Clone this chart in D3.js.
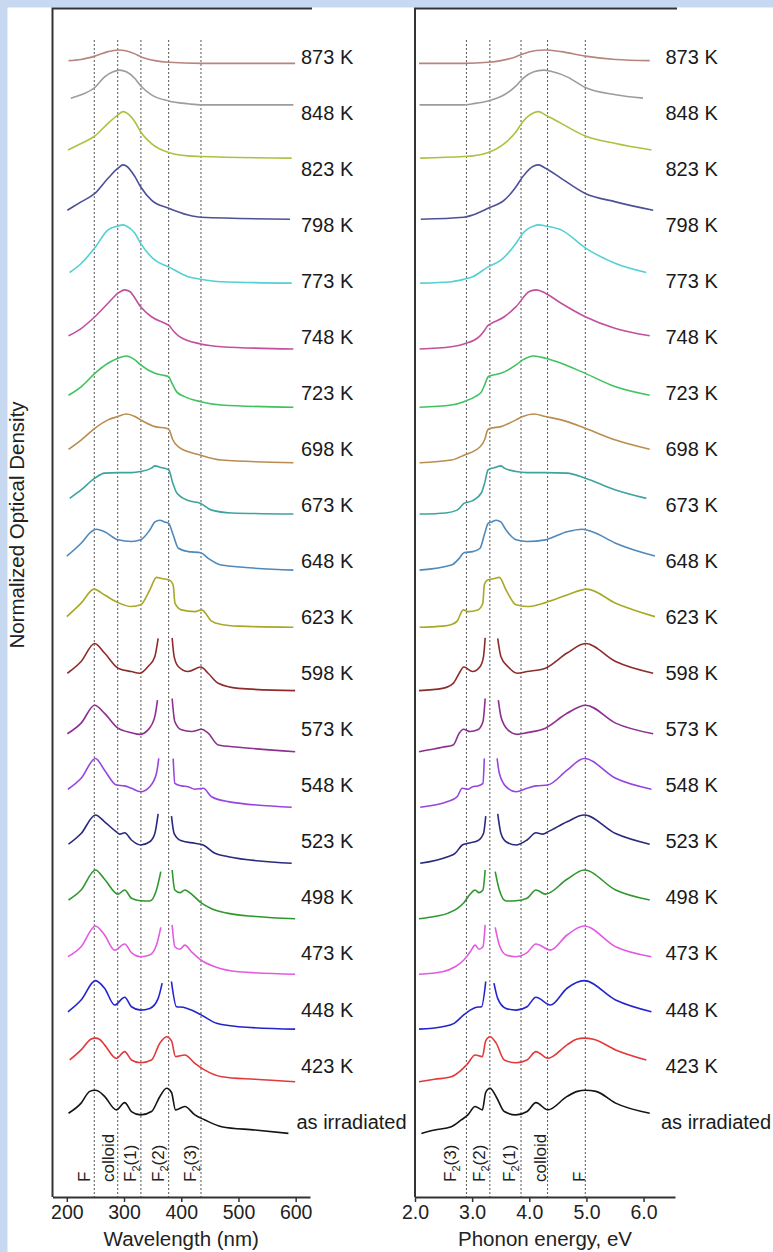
<!DOCTYPE html>
<html>
<head>
<meta charset="utf-8">
<script src="https://cdn.jsdelivr.net/npm/d3@7"></script>
<style>
  html, body { margin: 0; padding: 0; background: #c6d9f1; }
  svg { display: block; font-family: "Liberation Sans", Arial, Helvetica, sans-serif; }
</style>
</head>
<body>
<svg id="chart" width="773" height="1252"></svg>
<script>
// ---- axes ----
const wavelengthDomain = [175, 625];
const energyDomain = [2.0, 6.55];
const wavelengthTicks = [200, 300, 400, 500, 600];
const energyTicks = [2, 3, 4, 5, 6];
const HC = 1239.84; // eV·nm

// ---- absorption bands (dotted guides) ----
const bandNames = ["F", "colloid", "F2(1)", "F2(2)", "F2(3)"];
const bandWavelengths = [248, 289, 329.5, 378, 434.5];
const bandEnergies = [4.98, 4.32, 3.855, 3.31, 2.90];

// ---- spectra, bottom to top ----
const seriesNames = ["as irradiated", "423 K", "448 K", "473 K", "498 K", "523 K", "548 K", "573 K",
  "598 K", "623 K", "648 K", "673 K", "698 K", "723 K", "748 K", "773 K", "798 K", "823 K", "848 K", "873 K"];
const seriesColors = ["#141414", "#e2393a", "#2424cf", "#e35be0", "#2f972f", "#282a7c", "#9645e0", "#8c2f8e",
  "#8e2c2c", "#a9a827", "#4f88bb", "#3ca39f", "#b98d4f", "#3fc25f", "#c2509e", "#52d0d4", "#4c5097", "#a9c340", "#9c9c9c", "#b8847e"];

// [wavelength nm, normalized OD]; null marks the saturated region
const odIrr = [[203,0.40],[225,0.58],[240,0.79],[249,0.81],[256,0.79],[266,0.70],[286.6,0.46],[301.2,0.59],[312.9,0.43],[329.2,0.37],[348,0.43],[362.5,0.695],[374.3,0.845],[383,0.77],[390,0.46],[406.3,0.52],[423.8,0.37],[441.3,0.28],[470.5,0.16],[528.9,0.10],[587.3,0.04]];
const od423 = [[205,0.35],[225,0.53],[242,0.72],[250,0.74],[257,0.72],[266,0.62],[286.6,0.38],[301.2,0.50],[313,0.35],[329,0.30],[348,0.35],[362.5,0.65],[374.3,0.765],[383,0.69],[390,0.41],[406.3,0.44],[423.8,0.29],[441.3,0.17],[470.5,0.052],[529,0.005],[599,-0.037]];
const od448 = [[202,0.21],[225,0.42],[250,0.765],[266,0.63],[283.7,0.33],[301.2,0.47],[313,0.30],[329,0.24],[345,0.27],[359.7,0.45],[366.6,0.72],[375,null],[382.9,0.75],[391.7,0.30],[403.3,0.29],[418,0.24],[435.5,0.15],[461.8,0.004],[500,-0.056],[599,-0.10]];
const od473 = [[202,0.193],[225,0.37],[250,0.74],[266,0.58],[283.7,0.31],[301.2,0.42],[313,0.264],[329,0.193],[345,0.223],[356.7,0.40],[364.3,0.717],[374,null],[384.1,0.76],[388.8,0.37],[397.5,0.325],[406.3,0.40],[418,0.28],[434.3,0.134],[458.8,0.014],[500,-0.075],[599,-0.12]];
const od498 = [[203,0.204],[225,0.383],[250,0.74],[266,0.574],[289.5,0.31],[301.2,0.383],[313,0.235],[329,0.19],[345,0.186],[356.7,0.383],[364.3,0.71],[374,null],[384.1,0.74],[388.8,0.383],[397.5,0.335],[406.3,0.383],[418,0.31],[434.3,0.156],[453,0.05],[480,-0.03],[530,-0.09],[599,-0.13]];
const od523 = [[203,0.20],[225,0.39],[250,0.72],[266,0.60],[286.6,0.42],[292.5,0.38],[301.2,0.405],[313,0.275],[329,0.186],[345,0.244],[353.8,0.39],[359.6,0.74],[371,null],[382.9,0.70],[387.6,0.39],[400.4,0.26],[423.8,0.216],[438.4,0.186],[458.8,0.037],[482,-0.023],[593,-0.14]];
const od548 = [[202,0.18],[225,0.375],[250,0.73],[266,0.52],[286.6,0.256],[301,0.24],[313,0.197],[329,0.136],[345,0.226],[356.7,0.465],[360.7,0.73],[372,null],[385.9,0.73],[388.8,0.286],[400.4,0.24],[412,0.226],[423.8,0.18],[438.4,0.197],[453,0.047],[482,-0.04],[593,-0.14]];
const od573 = [[201,0.17],[225,0.36],[248.7,0.68],[266,0.535],[289.5,0.27],[313,0.19],[327.5,0.16],[342,0.24],[353.8,0.475],[358.5,0.77],[371,null],[384.1,0.80],[388.8,0.385],[400.4,0.24],[418,0.21],[435.5,0.25],[447,0.18],[464.7,-0.03],[500,-0.07],[599,-0.15]];
const od598 = [[201,0.25],[225,0.46],[248.7,0.78],[266,0.61],[289.5,0.34],[313,0.28],[327.5,0.25],[342,0.37],[353.8,0.545],[359.6,0.87],[371,null],[384.1,0.88],[387.6,0.545],[394.7,0.37],[412,0.28],[434.3,0.36],[447,0.25],[464.7,0.07],[500,-0.02],[599,-0.06]];
const od623 = [[200,0.26],[225,0.50],[247.5,0.75],[266,0.645],[289.5,0.51],[313,0.44],[329,0.47],[345,0.735],[356.7,0.96],[365.5,0.94],[380,0.91],[383,0.88],[386,0.82],[389,0.50],[400,0.38],[424,0.35],[435.5,0.38],[453,0.18],[470,0.12],[500,0.09],[596,0.07]];
const od648 = [[200,0.34],[225,0.57],[243,0.775],[251.6,0.82],[266,0.775],[289.5,0.63],[313,0.60],[329,0.63],[345,0.805],[354,0.95],[362.5,0.98],[371,0.95],[378,0.925],[386,0.715],[395,0.48],[412,0.42],[434,0.40],[447,0.30],[470,0.18],[596,0.09]];
const od673 = [[205,0.37],[225,0.52],[249,0.73],[266,0.82],[289.5,0.83],[313,0.83],[329,0.85],[348,0.91],[354,0.95],[365,0.92],[378,0.88],[385,0.65],[392,0.47],[412,0.33],[434,0.28],[453,0.16],[488,0.11],[596,0.09]];
const od698 = [[203,0.245],[225,0.41],[249,0.62],[272,0.77],[289.5,0.83],[304,0.875],[319,0.83],[329,0.77],[354,0.65],[374,0.62],[379,0.59],[385,0.42],[395,0.29],[434,0.14],[470,0.054],[596,0.006]];
const od723 = [[203,0.21],[225,0.36],[249,0.60],[272,0.78],[289.5,0.87],[304,0.91],[319,0.84],[329,0.75],[354,0.60],[372,0.56],[378,0.54],[384,0.42],[392,0.27],[405,0.19],[434,0.095],[470,0.036],[596,-0.005]];
const od748 = [[203,0.27],[225,0.40],[249,0.61],[272,0.85],[289.5,1.03],[301,1.09],[310,1.06],[329,0.79],[348,0.61],[374,0.48],[379,0.45],[386,0.36],[395,0.27],[434,0.124],[470,0.076],[596,0.035]];
const od773 = [[205,0.40],[225,0.56],[249,0.84],[272,1.16],[289.5,1.23],[298,1.25],[304,1.23],[319,1.10],[329,0.92],[354,0.62],[378,0.50],[412,0.325],[434,0.28],[470,0.235],[593,0.21]];
const od798 = [[201,0.51],[225,0.66],[249,0.81],[272,1.08],[289.5,1.26],[298,1.32],[304,1.30],[319,1.11],[329,0.93],[348,0.69],[378,0.545],[412,0.425],[434,0.385],[590,0.35]];
const od823 = [[202,0.585],[225,0.70],[249,0.835],[272,1.06],[289.5,1.21],[298,1.27],[304,1.25],[319,1.09],[329,0.91],[348,0.70],[378,0.54],[412,0.48],[434,0.47],[593,0.44]];
const od848 = [[207,0.51],[225,0.57],[249,0.70],[266,0.89],[281,0.98],[292,1.01],[304,0.98],[319,0.86],[329,0.73],[348,0.57],[378,0.46],[412,0.41],[434,0.39],[596,0.39]];
const od873 = [[203,0.18],[225,0.20],[249,0.26],[272,0.34],[290,0.37],[301,0.36],[319,0.30],[329,0.25],[354,0.18],[378,0.15],[434,0.13],[599,0.13]];

const spectra = [odIrr, od423, od448, od473, od498, od523, od548, od573, od598, od623,
  od648, od673, od698, od723, od748, od773, od798, od823, od848, od873];

// ---- layout ----
const W = 773, H = 1252;
const axisY = 1197, frameTop = 8.5, guideTop = 40, bandLabelBottom = 1182;
const fontTick = 19.5, fontLabel = 20, fontTitle = 20.5;

const svg = d3.select("#chart");
svg.append("rect").attr("x", 7.5).attr("y", 7.5).attr("width", W - 7.5).attr("height", H - 7.5).attr("fill", "#ffffff");

// vertical stacking: each spectrum sits one unit above the previous one
const yStack = d3.scaleLinear().domain([0, 19]).range([1135.65, 70.7]);
const labelShift = 0.25;

const panels = [
  {
    x: d3.scaleLinear().domain(wavelengthDomain).range([52.5, 310]),
    toX: d => d[0],
    ticks: wavelengthTicks, fmt: d3.format("d"),
    bands: bandWavelengths,
    bandGap: [4, 4, 5, 5, 5],
    title: "Wavelength (nm)",
    labelX: 301, labelXLong: 296.5
  },
  {
    x: d3.scaleLinear().domain(energyDomain).range([415, 675]),
    toX: d => HC / d[0],
    ticks: energyTicks, fmt: d3.format(".1f"),
    bands: bandEnergies,
    bandGap: [0, 2, 6, 5, 10],
    title: "Phonon energy, eV",
    labelX: 665.5, labelXLong: 661
  }
];

panels.forEach(p => {
  const g = svg.append("g");
  const [x0, x1] = p.x.range();

  // dotted guides for each band
  g.selectAll("line.guide").data(p.bands).join("line")
    .attr("class", "guide")
    .attr("x1", d => p.x(d)).attr("x2", d => p.x(d))
    .attr("y1", guideTop).attr("y2", axisY)
    .attr("stroke", "#555").attr("stroke-width", 1).attr("stroke-dasharray", "2,2");

  // band names, written upward beside each guide
  const bl = g.selectAll("text.band")
    .data(p.bands.map((v, i) => ({ v, name: bandNames[i], gap: p.bandGap[i] }))).join("text")
    .attr("class", "band")
    .attr("transform", d => `translate(${p.x(d.v) - d.gap},${bandLabelBottom}) rotate(-90)`)
    .attr("font-size", 17).attr("fill", "#222");
  bl.each(function (d) {
    const t = d3.select(this);
    const m = d.name.match(/^F2(\(\d\))$/);
    if (m) {
      t.append("tspan").text("F");
      t.append("tspan").attr("font-size", 11).attr("dy", 4).text("2");
      t.append("tspan").attr("dy", -4).text(m[1]);
    } else {
      t.text(d.name);
    }
  });

  // spectra
  const line = d3.line()
    .defined(d => d[1] !== null)
    .x(d => p.x(d.x))
    .y(d => yStack(d.i + d[1]))
    .curve(d3.curveMonotoneX);

  spectra.forEach((s, i) => {
    let pts = s.map(d => Object.assign([d[0], d[1]], { x: p.toX(d), i }));
    pts.sort((a, b) => a.x - b.x);
    g.append("path")
      .attr("d", line(pts))
      .attr("fill", "none")
      .attr("stroke", seriesColors[i])
      .attr("stroke-width", 1.6)
      .attr("stroke-linejoin", "round");
  });

  // series labels
  g.selectAll("text.series").data(seriesNames).join("text")
    .attr("class", "series")
    .attr("x", (d, i) => i === 0 ? p.labelXLong : p.labelX)
    .attr("y", (d, i) => yStack(i + labelShift) + 7)
    .attr("font-size", fontLabel).attr("fill", "#1a1a1a")
    .text(d => d);

  // frame: left, top and bottom axis
  g.append("path")
    .attr("d", `M${x0},${axisY}V${frameTop}H${x1 + 2}`)
    .attr("fill", "none").attr("stroke", "#333").attr("stroke-width", 2);

  const ax = g.append("g").attr("transform", `translate(0,${axisY})`)
    .call(d3.axisBottom(p.x).tickValues(p.ticks).tickFormat(p.fmt).tickSize(5).tickSizeOuter(0).tickPadding(3));
  ax.select(".domain").attr("stroke", "#333").attr("stroke-width", 2);
  ax.selectAll(".tick line").attr("stroke", "#333").attr("stroke-width", 1.5);
  ax.selectAll(".tick text").attr("font-size", fontTick).attr("fill", "#222")
    .attr("font-family", "'Liberation Sans', Arial, sans-serif");

  g.append("text")
    .attr("x", (x0 + x1) / 2).attr("y", 1246)
    .attr("text-anchor", "middle")
    .attr("font-size", fontTitle).attr("fill", "#222")
    .text(p.title);
});

// shared y title
svg.append("text")
  .attr("transform", "translate(24,525) rotate(-90)")
  .attr("text-anchor", "middle")
  .attr("font-size", fontTitle).attr("fill", "#222")
  .text("Normalized Optical Density");
</script>
</body>
</html>
